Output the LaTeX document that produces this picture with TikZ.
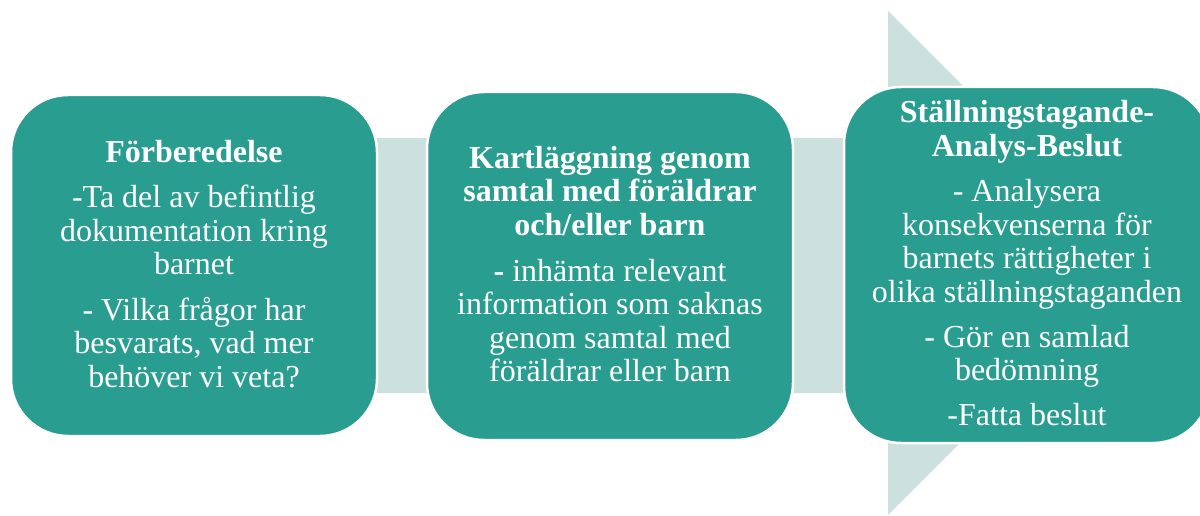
\documentclass[tikz,border=0pt]{standalone}
\usepackage{fontspec}
\setmainfont{Liberation Serif}
\definecolor{tealbox}{RGB}{42,157,145}
\definecolor{arrowlight}{RGB}{204,224,221}
\tikzset{
  stagebox/.style={draw=white, line width=2.5pt, fill=tealbox, rectangle,
    rounded corners=57pt, inner sep=0pt, minimum width=366pt},
  stagetext/.style={text=white, align=center, inner sep=0pt,
    font=\fontsize{32}{33.5}\selectfont},
}
\begin{document}
\begin{tikzpicture}[x=1pt,y=-1pt]
\useasboundingbox (0,0) rectangle (1200,516);
\clip (0,0) rectangle (1200,516);
% background arrow
\fill[arrowlight] (30,138) -- (888,138) -- (888,11) -- (1140,263) -- (888,515) -- (888,393) -- (30,393) -- cycle;
% boxes
\node[stagebox, minimum height=341pt] (b1) at (194,265.5) {};
\node[stagebox, minimum height=348pt] (b2) at (610,266) {};
\node[stagebox, minimum height=356pt] (b3) at (1027,265) {};
% texts
\node[stagetext] (t1) at (194,267.8) {\strut\textbf{Förberedelse}\\[12pt]
  -Ta del av befintlig\\ dokumentation kring\\ barnet\\[12pt]
  - Vilka frågor har\\ besvarats, vad mer\\ behöver vi veta?\strut};
\node[stagetext] (t2) at (610,268.5) {\strut\textbf{Kartläggning genom}\\ \textbf{samtal med föräldrar}\\ \textbf{och/eller barn}\\[12.5pt]
  \textbf{-} inhämta relevant\\ information som saknas\\ genom samtal med\\ föräldrar eller barn\strut};
\node[stagetext] (t3) at (1027,267.3) {\strut\textbf{Ställningstagande-}\\ \textbf{Analys-Beslut}\\[12pt]
  - Analysera\\ konsekvenserna för\\ barnets rättigheter i\\ olika ställningstaganden\\[11.5pt]
  - Gör en samlad\\ bedömning\\[11.5pt]
  -Fatta beslut\strut};
\end{tikzpicture}
\end{document}
